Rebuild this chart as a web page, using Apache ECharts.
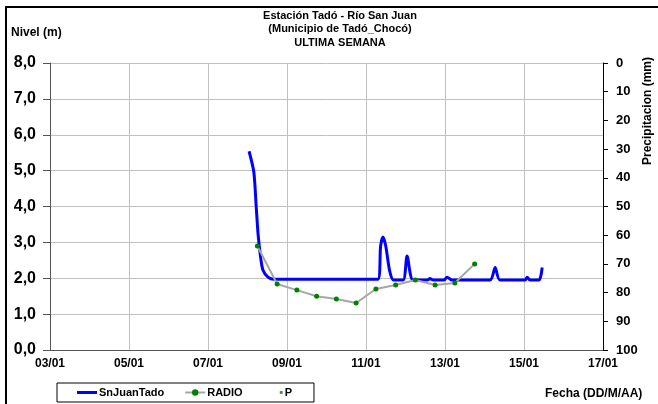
<!DOCTYPE html>
<html>
<head>
<meta charset="utf-8">
<script src="https://cdn.jsdelivr.net/npm/echarts@6/dist/echarts.min.js"></script>
<style>
  html, body { margin: 0; padding: 0; background: #fff; }
  #chart { width: 658px; height: 404px; }
</style>
</head>
<body>
<div id="chart"></div>
<script>
// dias de enero (fraccion = hora del dia)
const nivelDias = [8.04, 8.16, 8.22, 8.27, 8.33, 8.39, 8.52, 8.67, 11.30, 11.37, 11.43, 11.50, 11.60, 11.70,
  11.94, 12.04, 12.19, 12.55, 12.62, 12.70, 12.98, 13.05, 13.18, 14.14, 14.27, 14.39, 15.03, 15.08, 15.15, 15.38, 15.46]
const nivelValores = [5.54, 4.96, 4.0, 3.2, 2.6, 2.23, 2.03, 1.97, 1.97, 2.9, 3.15, 2.9, 2.2, 1.95,
  1.95, 2.62, 1.95, 1.95, 1.99, 1.95, 1.95, 2.03, 1.95, 1.95, 2.3, 1.95, 1.95, 2.03, 1.95, 1.95, 2.3]

const radioDias = [8.25, 8.75, 9.25, 9.75, 10.25, 10.75, 11.25, 11.75, 12.25, 12.75, 13.25, 13.75]
const radioValores = [2.90, 1.84, 1.67, 1.50, 1.42, 1.31, 1.70, 1.81, 1.95, 1.81, 1.87, 2.40]

const precipDias = []
const precipValores = []

const pad = (n) => (n < 10 ? '0' : '') + n
const pares = (xs, ys) => xs.map((x, i) => [x, ys[i]])

const fuente = 'Liberation Sans, Arial, sans-serif'
const chart = echarts.init(document.getElementById('chart'))

chart.setOption({
  animation: false,
  textStyle: { fontFamily: fuente },
  title: {
    text: 'Estación Tadó - Río San Juan\n(Municipio de Tadó_Chocó)\nULTIMA SEMANA',
    left: 335,
    textAlign: 'center',
    top: 4,
    textStyle: { fontSize: 11, fontWeight: 'bold', color: '#000', lineHeight: 13.5, fontFamily: fuente },
  },
  grid: { left: 50, right: 55, top: 63, bottom: 54 },
  legend: {
    left: 57,
    top: 383,
    itemWidth: 20,
    itemHeight: 8,
    itemGap: 20,
    padding: [4, 22, 4, 20],
    borderColor: '#000',
    borderWidth: 1,
    textStyle: { fontSize: 11, fontWeight: 'bold', color: '#000', fontFamily: fuente, padding: [0, 0, 0, -3] },
    data: [
      { name: 'SnJuanTado', icon: 'path://M0,0L20,0L20,3L0,3Z', itemStyle: { color: '#0000ff' } },
      'RADIO',
      { name: 'P', icon: 'path://M0,0M21,8M18,2.5L21,2.5L21,5.5L18,5.5Z', itemStyle: { color: '#008000' } },
    ],
  },
  xAxis: {
    type: 'value',
    min: 3,
    max: 17,
    interval: 2,
    axisLine: { show: true, lineStyle: { color: '#555', width: 1 } },
    axisTick: { show: false },
    splitLine: { show: true, lineStyle: { color: '#c0c0c0', width: 1 } },
    axisLabel: {
      margin: 8,
      fontSize: 12,
      fontWeight: 'bold',
      color: '#000',
      showMinLabel: true,
      showMaxLabel: true,
      formatter: (v) => pad(v) + '/01',
    },
  },
  yAxis: [
    {
      type: 'value',
      min: 0,
      max: 8,
      interval: 1,
      axisLine: { show: true, lineStyle: { color: '#555', width: 1 } },
      axisTick: { show: true, length: 7, lineStyle: { color: '#555' } },
      splitLine: { show: true, lineStyle: { color: '#c0c0c0', width: 1 } },
      axisLabel: {
        margin: 14,
        fontSize: 16,
        fontWeight: 'bold',
        color: '#000',
        formatter: (v) => v.toFixed(1).replace('.', ','),
      },
    },
    {
      type: 'value',
      position: 'right',
      inverse: true,
      min: 0,
      max: 100,
      interval: 10,
      axisLine: { show: true, lineStyle: { color: '#000', width: 1 } },
      axisTick: { show: true, inside: false, length: 5, lineStyle: { color: '#000' } },
      splitLine: { show: false },
      axisLabel: { margin: 13, fontSize: 13, fontWeight: 'bold', color: '#000' },
    },
  ],
  series: [
    {
      name: 'SnJuanTado',
      type: 'line',
      data: pares(nivelDias, nivelValores),
      symbol: 'none',
      smooth: 0.25,
      color: '#0000ff',
      lineStyle: { color: '#0000ff', width: 3 },
      z: 2,
    },
    {
      name: 'RADIO',
      type: 'line',
      data: pares(radioDias, radioValores),
      symbol: 'circle',
      symbolSize: 5,
      color: '#008000',
      itemStyle: { color: '#008000' },
      lineStyle: { color: '#a6a6a6', width: 2 },
      z: 3,
    },
    {
      name: 'P',
      type: 'scatter',
      yAxisIndex: 1,
      data: pares(precipDias, precipValores),
      symbol: 'circle',
      symbolSize: 4,
      color: '#008000',
      itemStyle: { color: '#008000' },
    },
  ],
  graphic: [
    {
      type: 'rect',
      shape: { x: 6, y: 7, width: 700, height: 500 },
      style: { fill: 'none', stroke: '#000', lineWidth: 2 },
      silent: true,
    },
    {
      type: 'text',
      left: 11,
      top: 27,
      style: { text: 'Nivel (m)', font: 'bold 12px ' + fuente, fill: '#000' },
    },
    {
      type: 'text',
      x: 642,
      y: 57,
      rotation: Math.PI / 2,
      originX: 0,
      originY: 0,
      style: { text: 'Precipitacion (mm)', font: 'bold 12px ' + fuente, fill: '#000', align: 'right', verticalAlign: 'top' },
    },
    {
      type: 'text',
      left: 545,
      top: 388,
      style: { text: 'Fecha (DD/M/AA)', font: 'bold 12px ' + fuente, fill: '#000' },
    },
  ],
})
</script>
</body>
</html>
